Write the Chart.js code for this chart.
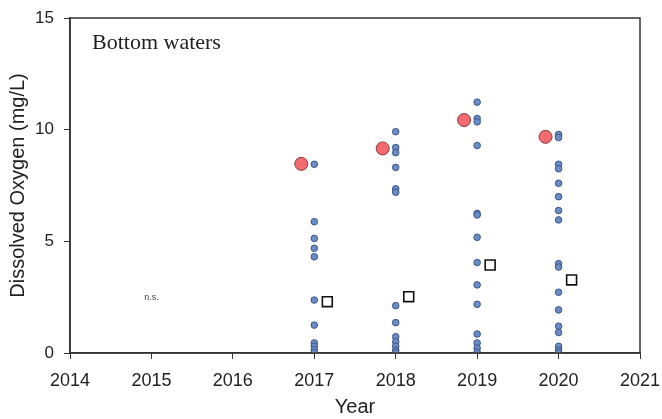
<!DOCTYPE html>
<html>
<head>
<meta charset="utf-8">
<script src="https://cdn.jsdelivr.net/npm/chart.js@4"></script>
<style>
  html, body { margin: 0; padding: 0; background: #fff; }
  #wrap { width: 662px; height: 419px; }
</style>
</head>
<body>
<div id="wrap"><canvas id="doChart" width="662" height="419"></canvas></div>
<script>
// sampled years and the single measurements taken in each
var years = [2017, 2018, 2019, 2020];
var samples2017 = [8.45, 5.88, 5.13, 4.69, 4.31, 2.37, 1.25, 0.45, 0.3, 0.15, 0.02];
var samples2018 = [9.91, 9.2, 8.97, 8.31, 7.35, 7.2, 2.12, 1.36, 0.73, 0.5, 0.3, 0.12, 0.02];
var samples2019 = [11.23, 10.5, 10.35, 9.29, 6.25, 6.18, 5.18, 4.05, 3.05, 2.18, 0.85, 0.45, 0.22, 0.03];
var samples2020 = [9.78, 9.65, 8.45, 8.25, 7.6, 7.0, 6.38, 5.96, 4.0, 3.85, 2.72, 1.93, 1.2, 0.92, 0.3, 0.12, 0.02];
var meanValues = [8.47, 9.16, 10.43, 9.68];   // red circles
var squareValues = [2.3, 2.52, 3.94, 3.27];   // open squares
var xTicks = [2014, 2015, 2016, 2017, 2018, 2019, 2020, 2021];
var yTicks = [0, 5, 10, 15];

var allSamples = [samples2017, samples2018, samples2019, samples2020];
var samplePoints = [];
years.forEach(function(yr, i) {
  allSamples[i].forEach(function(v) { samplePoints.push({x: yr, y: v}); });
});
var meanPoints = years.map(function(yr, i) { return {x: yr - 0.16, y: meanValues[i]}; });
var squarePoints = years.map(function(yr, i) { return {x: yr + 0.16, y: squareValues[i]}; });

var boxAndLabels = {
  id: 'boxAndLabels',
  afterDatasetsDraw: function(chart) {
    var ctx = chart.ctx, a = chart.chartArea;
    ctx.save();
    ctx.strokeStyle = '#333';
    ctx.lineWidth = 1.5;
    ctx.strokeRect(a.left, a.top, a.right - a.left, a.bottom - a.top);
    ctx.fillStyle = '#222';
    ctx.font = '22px "Liberation Serif", "Times New Roman", serif';
    ctx.textBaseline = 'middle';
    ctx.fillText('Bottom waters', a.left + 22, a.top + 25);
    ctx.font = '9px "Liberation Sans", Arial, sans-serif';
    ctx.fillStyle = '#444';
    ctx.textAlign = 'center';
    ctx.fillText('n.s.', chart.scales.x.getPixelForValue(2015), chart.scales.y.getPixelForValue(2.5));
    ctx.restore();
  }
};

new Chart(document.getElementById('doChart'), {
  type: 'scatter',
  data: {
    datasets: [{
      label: 'Samples',
      data: samplePoints,
      pointStyle: 'circle',
      pointRadius: 3.3,
      backgroundColor: '#6c8cc6',
      borderColor: '#3d5483',
      borderWidth: 1
    }, {
      label: 'Mean',
      data: meanPoints,
      pointStyle: 'circle',
      pointRadius: 6.5,
      backgroundColor: '#f06c70',
      borderColor: '#8c3b3e',
      borderWidth: 1
    }, {
      label: 'Square',
      data: squarePoints,
      pointStyle: 'rect',
      pointRadius: 7,
      backgroundColor: '#fff',
      borderColor: '#111',
      borderWidth: 1.6
    }]
  },
  options: {
    responsive: false,
    animation: false,
    layout: { padding: { top: 18, right: 22, left: 6, bottom: 0 } },
    plugins: { legend: { display: false }, tooltip: { enabled: false } },
    scales: {
      x: {
        type: 'linear',
        min: 2014, max: 2021,
        afterBuildTicks: function(s) { s.ticks = xTicks.map(function(v) { return {value: v}; }); },
        afterFit: function(s) { s.height = 66; s.paddingLeft = 0; s.paddingRight = 0; },
        grid: { drawOnChartArea: false, drawTicks: true, tickLength: 6, color: '#333' },
        border: { display: true, color: '#333', width: 1.5 },
        ticks: { color: '#222', padding: 11, font: { family: '"Liberation Sans", Arial, sans-serif', size: 18 }, callback: function(v) { return String(v); } },
        title: { display: true, text: 'Year', color: '#222', padding: { top: 0, bottom: 0 }, font: { family: '"Liberation Sans", Arial, sans-serif', size: 20 } }
      },
      y: {
        min: 0, max: 15,
        afterBuildTicks: function(s) { s.ticks = yTicks.map(function(v) { return {value: v}; }); },
        afterFit: function(s) { s.width = 64; s.paddingTop = 0; s.paddingBottom = 0; },
        grid: { drawOnChartArea: false, drawTicks: true, tickLength: 6, color: '#333' },
        border: { display: true, color: '#333', width: 1.5 },
        ticks: { color: '#222', padding: 10, font: { family: '"Liberation Sans", Arial, sans-serif', size: 17 } },
        title: { display: true, text: 'Dissolved Oxygen (mg/L)', color: '#222', padding: { top: 0, bottom: 2 }, font: { family: '"Liberation Sans", Arial, sans-serif', size: 20 } }
      }
    }
  },
  plugins: [boxAndLabels]
});
</script>
</body>
</html>
